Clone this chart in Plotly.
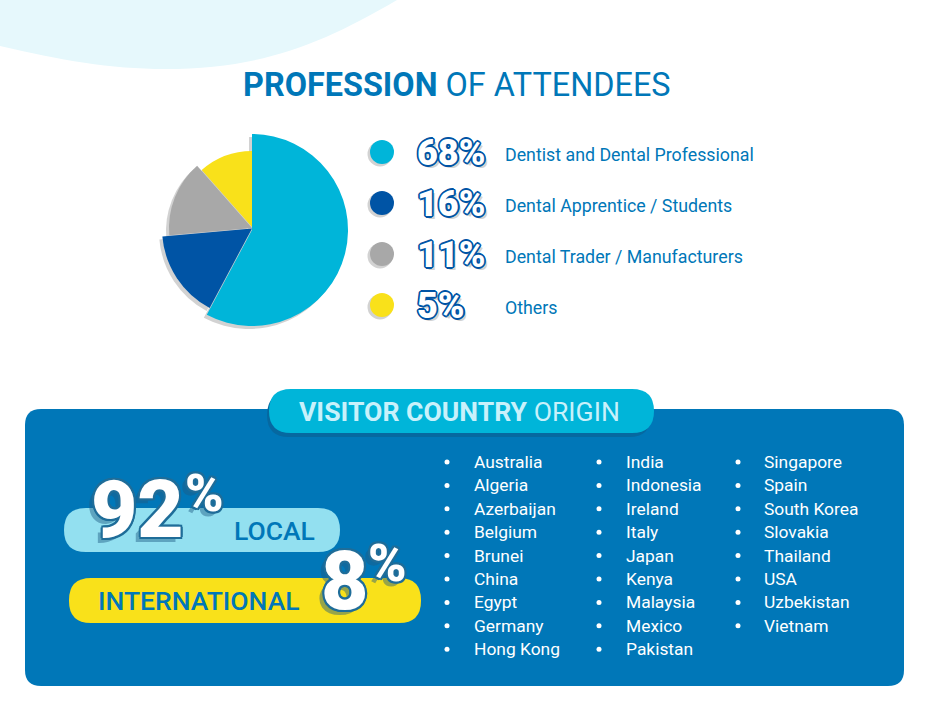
import plotly.graph_objects as go

WIDTH = 945
HEIGHT = 718

CYAN = '#00b5d9'
NAVY = '#0054a5'
GRAY = '#a8a8a8'
YELLOW = '#f9e11a'
BLUE = '#0077b8'
SHADOW = '#d2d2d2'
FONT = 'Roboto'

# Slice shares as drawn, the printed percentages differ from the drawn angles
PIE_SHARES = [57.8, 15.8, 14.9, 11.5]
PIE_COLORS = [CYAN, NAVY, GRAY, YELLOW]
PIE_RADII = [96, 90, 83, 76]
PIE_CENTER_Y = [230, 228.5, 228, 227]

PROFESSION_PCT = ['68%', '16%', '11%', '5%']
PROFESSION_LABELS = [
    'Dentist and Dental Professional',
    'Dental Apprentice / Students',
    'Dental Trader / Manufacturers',
    'Others',
]

COUNTRIES_1 = ['Australia', 'Algeria', 'Azerbaijan', 'Belgium', 'Brunei', 'China', 'Egypt', 'Germany', 'Hong Kong']
COUNTRIES_2 = ['India', 'Indonesia', 'Ireland', 'Italy', 'Japan', 'Kenya', 'Malaysia', 'Mexico', 'Pakistan']
COUNTRIES_3 = ['Singapore', 'Spain', 'South Korea', 'Slovakia', 'Thailand', 'USA', 'Uzbekistan', 'Vietnam']

LOCAL_PCT = '92'
INTL_PCT = '8'

ROW_TOP = 462
ROW_STEP = 23.4


def rounded_box(x0, y0, x1, y1, r):
    return (f'M{x0 + r},{y0} L{x1 - r},{y0} Q{x1},{y0} {x1},{y0 + r} '
            f'L{x1},{y1 - r} Q{x1},{y1} {x1 - r},{y1} '
            f'L{x0 + r},{y1} Q{x0},{y1} {x0},{y1 - r} '
            f'L{x0},{y0 + r} Q{x0},{y0} {x0 + r},{y0} Z')


def box_shape(x0, y0, x1, y1, r, color):
    return dict(type='path', path=rounded_box(x0, y0, x1, y1, r), fillcolor=color,
                line=dict(width=0), layer='below')


def outline(color, w, drop):
    # Text stroke faked with text-shadow, first one paints on top
    parts = [f'{dx * w}px {dy * w}px 0 {color}'
             for dx, dy in [(1, 0), (-1, 0), (0, 1), (0, -1), (.7, .7), (-.7, .7), (.7, -.7), (-.7, -.7)]]
    parts.append(drop)
    return ', '.join(parts)


def pie_slice(index, color, cx, cy, r):
    colors = ['rgba(0,0,0,0)'] * len(PIE_SHARES)
    colors[index] = color
    return go.Pie(
        values=PIE_SHARES,
        sort=False,
        direction='clockwise',
        rotation=0,
        textinfo='none',
        hoverinfo='skip',
        showlegend=False,
        marker=dict(colors=colors, line=dict(width=0)),
        domain=dict(x=[(cx - r) / WIDTH, (cx + r) / WIDTH],
                    y=[1 - (cy + r) / HEIGHT, 1 - (cy - r) / HEIGHT]),
    )


fig = go.Figure()

# Pie, one trace per slice because every slice has its own radius
for i, r in enumerate(PIE_RADII):
    fig.add_trace(pie_slice(i, SHADOW, 249, PIE_CENTER_Y[i] + 3, r))
for i, r in enumerate(PIE_RADII):
    fig.add_trace(pie_slice(i, PIE_COLORS[i], 252, PIE_CENTER_Y[i], r))

# Legend dots
row_y = [152 + i * 51 for i in range(len(PROFESSION_LABELS))]
fig.add_trace(go.Scatter(x=[380] * 4, y=[y + 2 for y in row_y], mode='markers', hoverinfo='skip',
                         marker=dict(size=25, color=SHADOW), showlegend=False))
fig.add_trace(go.Scatter(x=[382] * 4, y=row_y, mode='markers', hoverinfo='skip',
                         marker=dict(size=24, color=PIE_COLORS), showlegend=False))

# Country columns
for countries, bullet_x, text_x in [(COUNTRIES_1, 447, 474), (COUNTRIES_2, 599, 626), (COUNTRIES_3, 738, 764)]:
    ys = [ROW_TOP + i * ROW_STEP for i in range(len(countries))]
    fig.add_trace(go.Scatter(x=[bullet_x] * len(ys), y=ys, mode='markers', hoverinfo='skip',
                             marker=dict(size=5, color='white'), showlegend=False))
    fig.add_trace(go.Scatter(x=[text_x] * len(ys), y=[y + 1.6 for y in ys], text=countries, mode='text',
                             hoverinfo='skip', textposition='middle right', showlegend=False,
                             textfont=dict(family=FONT, size=17.4, color='white')))

shapes = [
    dict(type='path', layer='below', fillcolor='#e6f8fc', line=dict(width=0),
         path='M0,0 L0,46 C60,60 110,69 165,69 C260,69 320,45 397,0 Z'),
    box_shape(25, 409, 904, 686, 16, BLUE),
    box_shape(267, 393, 651, 437, 22, '#0668a0'),
    box_shape(269, 389, 654, 433, 22, CYAN),
    box_shape(64, 508, 340, 552, 22, '#93e0f0'),
    box_shape(69, 578, 421, 623, 22, YELLOW),
]

annotations = []


def add_text(text, x, y, size, color, shadow='none', weight=400):
    annotations.append(dict(text=text, x=x, y=y, xref='x', yref='y', showarrow=False,
                            xanchor='left', yanchor='middle', align='left',
                            font=dict(family=FONT, size=size, color=color, shadow=shadow, weight=weight)))


add_text('<b>PROFESSION</b> OF ATTENDEES', 241, 85, 32.4, BLUE)
add_text('<b>VISITOR COUNTRY</b> ORIGIN', 297, 411, 26.6, '#c8f1fb')

pct_shadow = outline(NAVY, 1.8, f'3px 3px 0 {SHADOW}')
for i, pct in enumerate(PROFESSION_PCT):
    add_text(pct, 415, row_y[i] + 1, 36, 'white', pct_shadow, weight=900)
    add_text(PROFESSION_LABELS[i], 503, row_y[i] + 2.5, 17.8, BLUE)

big_shadow = outline('#1f6d99', 2.2, '-5px 5px 0 rgba(30,90,130,0.45)')
add_text('LOCAL', 232, 530, 26.5, BLUE, weight=500)
add_text('INTERNATIONAL', 96, 600, 26.5, BLUE, weight=500)
add_text(LOCAL_PCT, 89, 510, 80, 'white', big_shadow, weight=900)
add_text('%', 183, 493, 52, 'white', big_shadow, weight=900)
add_text(INTL_PCT, 319, 581, 82, 'white', big_shadow, weight=900)
add_text('%', 366, 563, 52, 'white', big_shadow, weight=900)

fig.update_layout(
    width=WIDTH,
    height=HEIGHT,
    margin=dict(l=0, r=0, t=0, b=0),
    paper_bgcolor='white',
    plot_bgcolor='rgba(0,0,0,0)',
    showlegend=False,
    xaxis=dict(visible=False, range=[0, WIDTH], fixedrange=True),
    yaxis=dict(visible=False, range=[HEIGHT, 0], fixedrange=True),
    shapes=shapes,
    annotations=annotations,
)

fig.write_html('out.html', config=dict(displayModeBar=False),
               post_script="document.body.style.margin='0';")
